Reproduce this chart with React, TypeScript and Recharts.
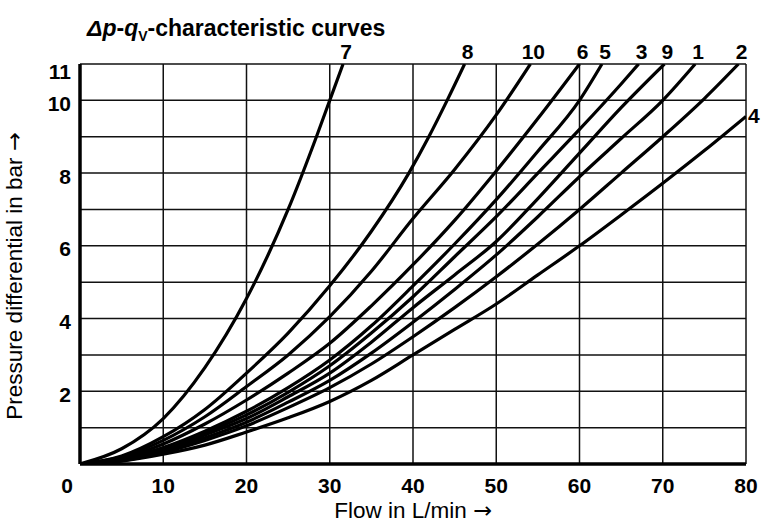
import React from "react";
import { CartesianGrid, Label, LabelList, Line, LineChart, XAxis, YAxis } from "recharts";

// flow q (L/min), pressure differential p (bar)
const curve7 = [[0, 0], [5, 0.42], [10, 1.25], [15, 2.65], [20, 4.55], [25, 7.0], [28.4, 9], [30, 10], [31.6, 11]];
const curve8 = [[0, 0], [5, 0.22], [10, 0.75], [15, 1.5], [20, 2.5], [25, 3.6], [30, 4.9], [35, 6.4], [39.5, 8], [41.9, 9], [44.1, 10], [46.2, 11]];
const curve10 = [[0, 0], [5, 0.2], [10, 0.65], [15, 1.3], [20, 2.13], [25, 3.0], [30, 4.05], [35, 5.3], [40, 6.75], [45, 8.1], [50, 9.6], [54.1, 11]];
const curve6 = [[0, 0], [5, 0.16], [10, 0.55], [15, 1.1], [20, 1.76], [25, 2.5], [30, 3.32], [35, 4.35], [40, 5.48], [45, 6.7], [50, 8.06], [55, 9.5], [60, 11]];
const curve5 = [[0, 0], [5, 0.13], [10, 0.45], [15, 0.9], [20, 1.45], [25, 2.1], [30, 2.86], [35, 3.8], [40, 4.9], [45, 6.05], [50, 7.27], [55, 8.6], [60, 10.0], [62.7, 11]];
const curve3 = [[0, 0], [5, 0.12], [10, 0.42], [15, 0.85], [20, 1.35], [25, 1.97], [30, 2.7], [35, 3.6], [40, 4.6], [45, 5.7], [50, 6.8], [55, 8.0], [60, 9.2], [65, 10.45], [67.1, 11]];
const curve9 = [[0, 0], [5, 0.11], [10, 0.38], [15, 0.8], [20, 1.25], [25, 1.85], [30, 2.5], [35, 3.35], [40, 4.3], [45, 5.2], [50, 6.12], [55, 7.3], [60, 8.55], [65, 9.8], [70.2, 11]];
const curve1 = [[0, 0], [5, 0.1], [10, 0.35], [15, 0.72], [20, 1.15], [25, 1.7], [30, 2.3], [35, 3.05], [40, 3.9], [45, 4.8], [50, 5.75], [55, 6.8], [60, 7.9], [65, 8.95], [70, 10.0], [73.9, 11]];
const curve2 = [[0, 0], [5, 0.09], [10, 0.32], [15, 0.65], [20, 1.05], [25, 1.55], [30, 2.1], [35, 2.75], [40, 3.5], [45, 4.3], [50, 5.15], [55, 6.05], [60, 7.0], [65, 8.0], [70, 9.0], [75, 10.05], [79.1, 11]];
const curve4 = [[0, 0], [5, 0.08], [10, 0.27], [15, 0.52], [20, 0.88], [25, 1.27], [30, 1.72], [35, 2.3], [40, 3.0], [45, 3.7], [50, 4.4], [55, 5.2], [60, 6.0], [65, 6.85], [70, 7.72], [75, 8.62], [80, 9.56]];

const SERIES: [string, number[][]][] = [
  ["7", curve7],
  ["8", curve8],
  ["10", curve10],
  ["6", curve6],
  ["5", curve5],
  ["3", curve3],
  ["9", curve9],
  ["1", curve1],
  ["2", curve2],
  ["4", curve4],
];

const X_TICKS = [0, 10, 20, 30, 40, 50, 60, 70, 80];
const Y_TICKS = [0, 1, 2, 3, 4, 5, 6, 7, 8, 9, 10, 11];
const Y_LABELS = [2, 4, 6, 8, 10, 11];

const FONT = '"Liberation Sans", Arial, sans-serif';
const ARROW_FONT = '"DejaVu Sans", sans-serif';
const INK = "#000";
const NUM_SIZE = 21;
const TITLE_SIZE = 22.5;

function XTick({ x, y, payload }: any) {
  const v = payload.value;
  return (
    <text x={x + (v === 0 ? -13 : 0)} y={y} dy={21} textAnchor="middle" fontFamily={FONT} fontSize={NUM_SIZE} fontWeight="bold" fill={INK}>
      {v}
    </text>
  );
}

function YTick({ x, y, payload }: any) {
  const v = payload.value;
  if (!Y_LABELS.includes(v)) return null;
  return (
    <text x={x - 1} y={y} dy={v === 11 ? 15 : 10.5} textAnchor="end" fontFamily={FONT} fontSize={NUM_SIZE} fontWeight="bold" fill={INK}>
      {v}
    </text>
  );
}

const endLabel = (name: string, last: number) => (props: any) => {
  const { x, y, index } = props;
  if (index !== last) return null;
  if (name === "4") {
    return (
      <text x={x + 2} y={y} dy={7} textAnchor="start" fontFamily={FONT} fontSize={NUM_SIZE} fontWeight="bold" fill={INK}>
        {name}
      </text>
    );
  }
  return (
    <text x={x + 3} y={y} dy={-5} textAnchor="middle" fontFamily={FONT} fontSize={NUM_SIZE} fontWeight="bold" fill={INK}>
      {name}
    </text>
  );
};

const xTitle = (props: any) => {
  const vb = props.viewBox || {};
  return (
    <text x={vb.x + vb.width / 2} y={vb.y + vb.height - 9} textAnchor="middle" fontFamily={FONT} fontSize={TITLE_SIZE} fill={INK}>
      Flow in L/min <tspan fontFamily={ARROW_FONT}>→</tspan>
    </text>
  );
};

const yTitle = () => (
  <text transform="translate(22,276) rotate(-90)" textAnchor="middle" fontFamily={FONT} fontSize={TITLE_SIZE} fill={INK}>
    Pressure differential in bar <tspan fontFamily={ARROW_FONT}>→</tspan>
  </text>
);

export default function App() {
  return (
    <div style={{ position: "absolute", left: 0, top: 0, width: 761, height: 527, background: "#fff" }}>
      <LineChart width={761} height={527} margin={{ top: 64, right: 15, bottom: 0, left: 10 }}>
        <CartesianGrid stroke="#111" strokeWidth={1.5} />
        <XAxis
          type="number"
          dataKey="q"
          domain={[0, 80]}
          ticks={X_TICKS}
          allowDataOverflow
          height={63}
          tickLine={false}
          axisLine={{ stroke: INK, strokeWidth: 3.5 }}
          tick={<XTick />}
        >
          <Label content={xTitle} />
        </XAxis>
        <YAxis
          type="number"
          dataKey="p"
          domain={[0, 11]}
          ticks={Y_TICKS}
          allowDataOverflow
          width={70}
          tickLine={false}
          axisLine={{ stroke: INK, strokeWidth: 3.5 }}
          tick={<YTick />}
        >
          <Label content={yTitle} />
        </YAxis>
        {SERIES.map(([name, pts]) => {
          const data = pts.map(([q, p]) => ({ q, p }));
          return (
            <Line
              key={name}
              data={data}
              dataKey="p"
              type="monotone"
              stroke={INK}
              strokeWidth={3.2}
              dot={false}
              activeDot={false}
              isAnimationActive={false}
            >
              <LabelList dataKey="p" content={endLabel(name, data.length - 1)} />
            </Line>
          );
        })}
      </LineChart>
      <svg width={761} height={50} style={{ position: "absolute", left: 0, top: 0, pointerEvents: "none" }}>
        <text x={87} y={36} fontFamily={FONT} fontSize={23} fontWeight="bold" fill={INK}>
          <tspan fontStyle="italic">Δp</tspan>-<tspan fontStyle="italic">q</tspan>
          <tspan fontSize={14} dy={5}>V</tspan>
          <tspan dy={-5}>-characteristic curves</tspan>
        </text>
      </svg>
    </div>
  );
}
